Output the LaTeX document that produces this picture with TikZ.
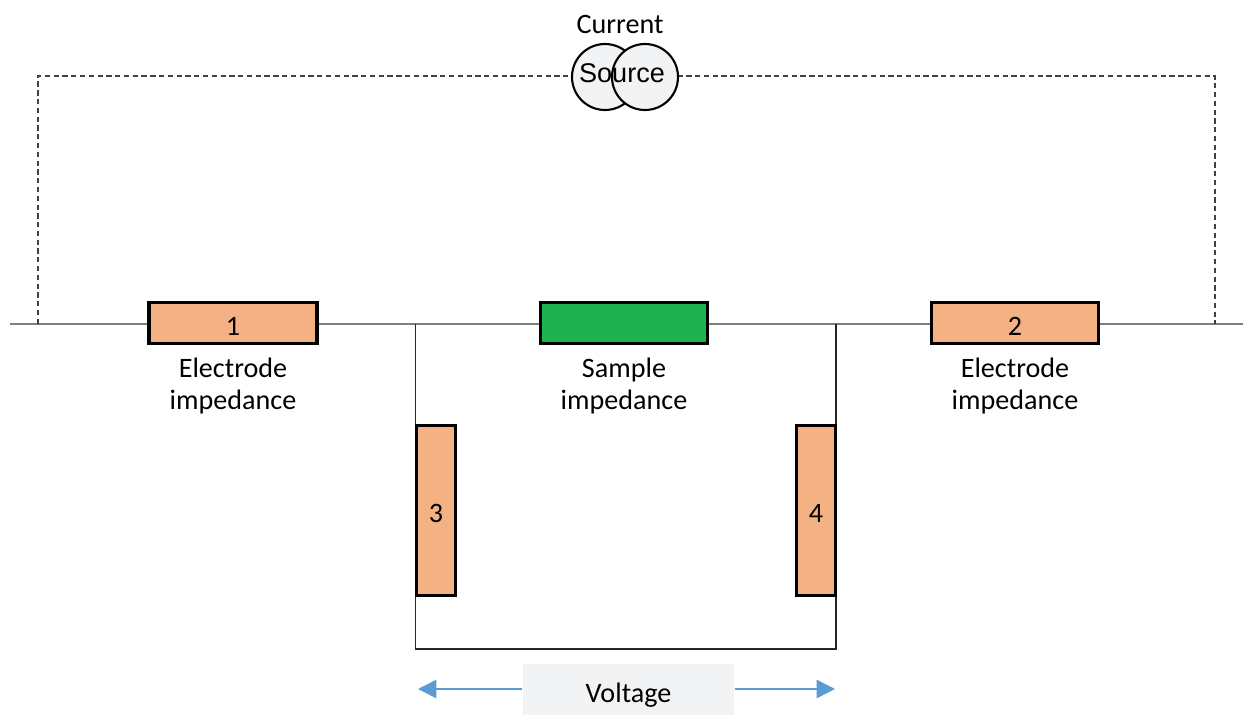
\documentclass[tikz,border=0pt]{standalone}
\usepackage{fontspec}
\setmainfont{Carlito}
\newfontfamily\labelfont{Liberation Sans}
\usetikzlibrary{arrows.meta}
\definecolor{padorange}{HTML}{F4B183}
\definecolor{samplegreen}{HTML}{1FB14F}
\definecolor{softgrey}{HTML}{F1F3F5}
\definecolor{wiregrey}{HTML}{7F7F7F}
\definecolor{arrowblue}{HTML}{5B9BD5}
\tikzset{
  padbox/.style={draw=black,line width=1pt,fill=padorange,inner sep=0pt,text height=6.9pt,text depth=0pt,font=\fontsize{8}{8}\selectfont},
  wire/.style={draw=wiregrey,line width=0.4pt},
  leadline/.style={draw=black!85,line width=0.4pt},
  dashline/.style={draw=black!75,line width=0.3pt,dash pattern=on 1.5pt off 1pt},
  sourcering/.style={draw=black,line width=0.6pt,fill=softgrey,circle,minimum size=0.66cm,inner sep=0pt},
  caption/.style={align=center,font=\fontsize{8}{9.1}\selectfont},
  voltarrow/.style={draw=arrowblue,line width=0.4pt,-{Triangle[length=5.2pt,width=5.2pt]}}
}
\begin{document}
\begin{tikzpicture}
  \useasboundingbox (0,0) rectangle (12.43,7.15);
  \coordinate (wl) at (0.10,3.91);
  \coordinate (wr) at (12.43,3.91);
  \coordinate (dl) at (0.38,3.91);
  \coordinate (dr) at (12.15,3.91);
  \coordinate (tl) at (0.38,6.39);
  \coordinate (tr) at (12.15,6.39);
  \coordinate (jl) at (4.155,3.91);
  \coordinate (jr) at (8.36,3.91);
  \coordinate (bl) at (4.155,0.66);
  \coordinate (br) at (8.36,0.66);
  \coordinate (al) at (4.18,0.26);
  \coordinate (ar) at (8.35,0.26);
  \draw[wire] (wl) -- (wr);
  \draw[dashline] (dl) -- (tl) -- (tr) -- (dr);
  \draw[leadline] (jl) -- (bl) -- (br) -- (jr);
  \node[sourcering] (srcl) at (6.05,6.38) {};
  \node[sourcering] (srcr) at (6.45,6.38) {};
  \node[font=\labelfont\fontsize{7.7}{7.7}\selectfont] (srctext) at (6.22,6.42) {Source};
  \node[caption] (current) at (6.20,6.91) {Current};
  \node[padbox,minimum width=1.68cm,minimum height=0.41cm] (pad1) at (2.33,3.92) {1};
  \node[padbox,fill=samplegreen,minimum width=1.67cm,minimum height=0.41cm] (sample) at (6.24,3.92) {};
  \node[padbox,minimum width=1.67cm,minimum height=0.41cm] (pad2) at (10.15,3.92) {2};
  \node[padbox,minimum width=0.39cm,minimum height=1.70cm] (pad3) at (4.36,2.045) {3};
  \node[padbox,minimum width=0.39cm,minimum height=1.70cm] (pad4) at (8.16,2.045) {4};
  \node[caption] (cap1) at (2.33,3.29) {Electrode\\impedance};
  \node[caption] (capS) at (6.24,3.29) {Sample\\impedance};
  \node[caption] (cap2) at (10.15,3.29) {Electrode\\impedance};
  \node[fill=softgrey,minimum width=2.11cm,minimum height=0.51cm,inner sep=0pt,text height=7.3pt,text depth=0pt,font=\fontsize{8}{8}\selectfont] (volt) at (6.285,0.255) {Voltage};
  \draw[voltarrow] (volt.west |- al) -- (al);
  \draw[voltarrow] (volt.east |- ar) -- (ar);
\end{tikzpicture}
\end{document}
